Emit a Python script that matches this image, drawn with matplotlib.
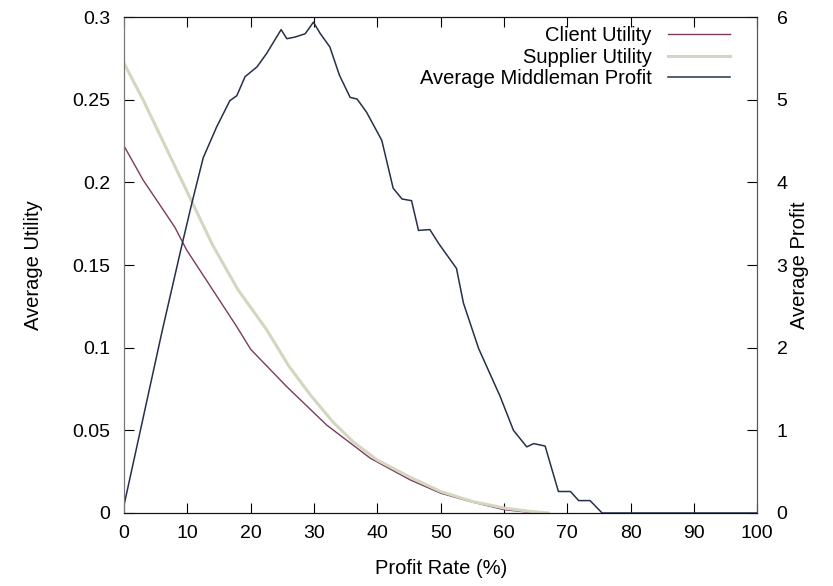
import numpy as np
from matplotlib import pyplot as plt

plt.rcParams['font.family'] = ['Liberation Sans', 'DejaVu Sans']

# Average utility (left axis)
client_x = [0, 3, 8, 9.9, 14, 17.8, 20, 25.7, 32, 38.9, 45.2, 50, 54.7, 60, 65]
client_u = [0.222, 0.2015, 0.173, 0.159, 0.135, 0.1127, 0.099, 0.0764, 0.0532,
            0.0331, 0.020, 0.012, 0.0069, 0.002, 0.0]

supplier_x = [0, 3, 6, 10, 14, 18, 22.5, 26, 29.4, 33, 36.2, 40, 45, 50, 55, 60, 64, 67]
supplier_u = [0.272, 0.250, 0.226, 0.194, 0.162, 0.135, 0.111, 0.089, 0.0715, 0.055,
              0.043, 0.032, 0.022, 0.013, 0.007, 0.003, 0.001, 0.0]

# Average middleman profit (right axis)
profit_x = [0, 3, 6, 9, 10.7, 12.5, 14.6, 16.7, 17.8, 19.1, 21.0, 22.5, 24.8, 25.7,
            27, 28.6, 29.9, 31, 32.5, 34, 35.7, 36.8, 38.3, 40.7, 42.5, 43.9, 45.4,
            46.5, 48.3, 49.7, 52.5, 53.6, 56.0, 59.4, 61.5, 63.6, 64.7, 66.5, 68.6,
            70.5, 71.8, 73.6, 75.5, 100]
profit_v = [0.1, 1.15, 2.2, 3.2, 3.75, 4.3, 4.67, 4.99, 5.05, 5.28, 5.40, 5.56, 5.85,
            5.74, 5.76, 5.80, 5.94, 5.80, 5.64, 5.30, 5.03, 5.01, 4.85, 4.51, 3.93,
            3.80, 3.78, 3.42, 3.43, 3.26, 2.96, 2.54, 1.99, 1.41, 1.00, 0.80, 0.84,
            0.81, 0.26, 0.26, 0.15, 0.15, 0.0, 0.0]

fig = plt.figure(figsize=(8.33, 5.86), dpi=100)
ax = fig.add_axes([0.149, 0.1246, 0.760, 0.846])
ax2 = ax.twinx()

l1, = ax.plot(client_x, client_u, color='#7b3b5e', lw=1.0, label='Client Utility')
l2, = ax.plot(supplier_x, supplier_u, color='#d3d7bf', lw=2.2, label='Supplier Utility')
l3, = ax2.plot(profit_x, profit_v, color='#26304a', lw=1.1, label='Average Middleman Profit')

ax.set_xlim(0, 100)
ax.set_ylim(0, 0.3)
ax2.set_ylim(0, 6)
ax.set_xticks(np.arange(0, 101, 10))
ax.set_yticks([0, 0.05, 0.1, 0.15, 0.2, 0.25, 0.3])
ax.set_yticklabels(['0', '0.05', '0.1', '0.15', '0.2', '0.25', '0.3'])
ax2.set_yticks(range(7))

ax.tick_params(axis='x', direction='in', length=7, top=True, pad=9, labelsize=14)
ax.tick_params(axis='y', direction='in', length=7, pad=10, labelsize=14)
ax2.tick_params(axis='y', direction='in', length=7, pad=14, labelsize=14)

for a in (ax, ax2):
    a.spines['left'].set_color('#777777')
    a.spines['right'].set_color('#555555')
    a.spines['top'].set_color('#111111')
    a.spines['bottom'].set_color('#111111')

ax.set_xlabel('Profit Rate (%)', fontsize=14.5, labelpad=12)
ax.set_ylabel('Average Utility', fontsize=14.5, labelpad=21)
ax2.set_ylabel('Average Profit', fontsize=14.5, labelpad=2)

ax2.legend(handles=[l1, l2, l3], loc='upper right', bbox_to_anchor=(0.957, 0.982),
           frameon=False, markerfirst=False, fontsize=14.5, borderpad=0,
           borderaxespad=0, handlelength=3.1, handletextpad=0.8, labelspacing=0.12)

fig.savefig('out.png', dpi=100)
